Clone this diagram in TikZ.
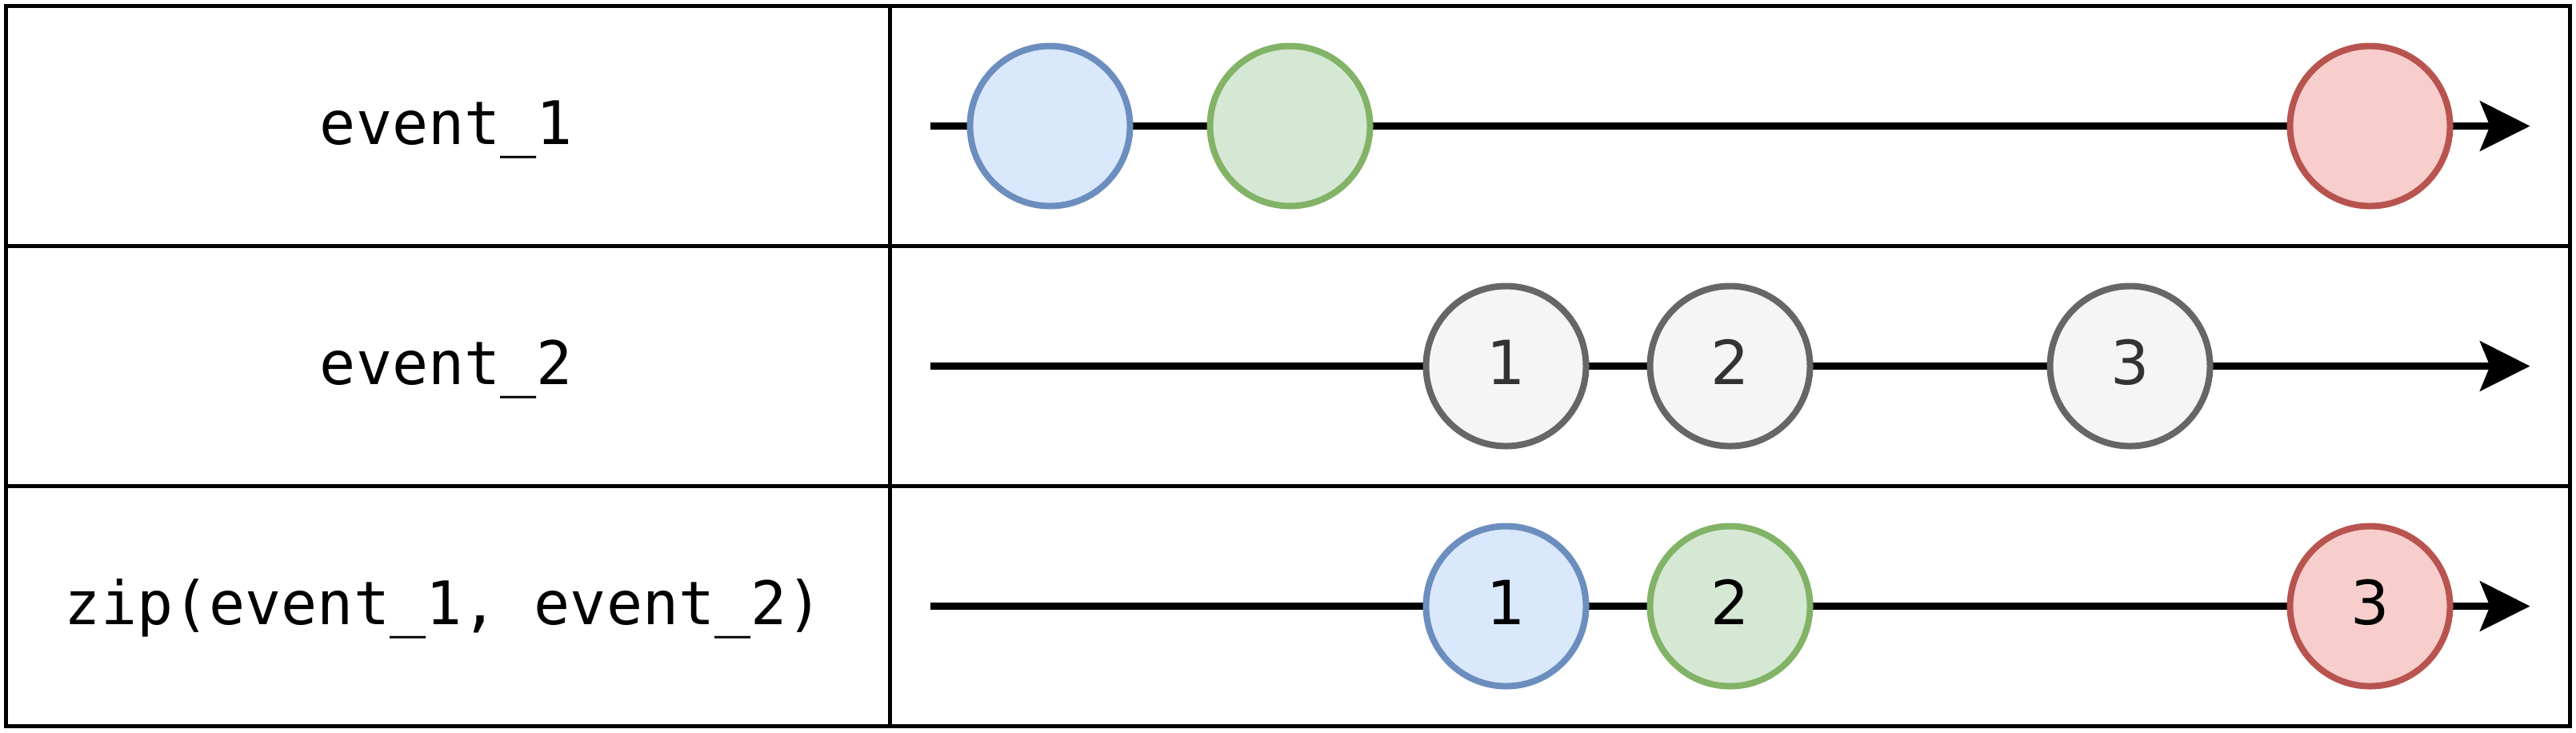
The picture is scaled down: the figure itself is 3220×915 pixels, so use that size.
\documentclass[tikz,border=0pt]{standalone}
\usepackage{fontspec}
\setmainfont{DejaVu Sans}
\newfontfamily\monofont{DejaVu Sans Mono}
\usetikzlibrary{arrows.meta}
\definecolor{bluefill}{HTML}{DAE8FC}
\definecolor{bluedraw}{HTML}{6C8EBF}
\definecolor{greenfill}{HTML}{D5E8D4}
\definecolor{greendraw}{HTML}{82B366}
\definecolor{redfill}{HTML}{F8CECC}
\definecolor{reddraw}{HTML}{B85450}
\definecolor{grayfill}{HTML}{F5F5F5}
\definecolor{graydraw}{HTML}{666666}
\definecolor{graytext}{HTML}{333333}
\begin{document}
\begin{tikzpicture}[x=0.25pt,y=-0.25pt,
  frame/.style={line width=1.25pt,draw=black},
  timeline/.style={line width=2.25pt,draw=black,
    -{Stealth[length=15.6pt,width=15.5pt,inset=3.1pt]}},
  ev/.style={circle,minimum size=50pt,inner sep=0pt,line width=2pt,
    font=\fontsize{19pt}{19pt}\selectfont,text height=11.5pt,text depth=0pt},
  evblue/.style={ev,draw=bluedraw,fill=bluefill},
  evgreen/.style={ev,draw=greendraw,fill=greenfill},
  evred/.style={ev,draw=reddraw,fill=redfill},
  evgray/.style={ev,draw=graydraw,fill=grayfill,text=graytext},
  rowlabel/.style={inner sep=0pt,font=\monofont\fontsize{18.75pt}{18.75pt}\selectfont,
    text height=11.5pt,text depth=0pt}]
\useasboundingbox (0,0) rectangle (3220,915);
\fill[white] (0,0) rectangle (3220,915);
% table frame
\draw[frame] (7.5,7.5) rectangle (3212.5,907.5);
\draw[frame] (7.5,307.5) -- (3212.5,307.5);
\draw[frame] (7.5,607.5) -- (3212.5,607.5);
\draw[frame] (1112,7.5) -- (1112,907.5);
% row labels
\node[rowlabel] (l1) at (558,157.5) {event\_1};
\node[rowlabel] (l2) at (558,457.5) {event\_2};
\node[rowlabel] (l3) at (555,757.5) {zip(event\_1, event\_2)};
% timelines
\coordinate (s1) at (1162.5,157.5);
\coordinate (e1) at (3162.5,157.5);
\coordinate (s2) at (1162.5,457.5);
\coordinate (e2) at (3162.5,457.5);
\coordinate (s3) at (1162.5,757.5);
\coordinate (e3) at (3162.5,757.5);
\draw[timeline] (s1) -- (e1);
\draw[timeline] (s2) -- (e2);
\draw[timeline] (s3) -- (e3);
% row 1 events
\node[evblue]  (a1) at (1312.5,157.5) {};
\node[evgreen] (a2) at (1612.5,157.5) {};
\node[evred]   (a3) at (2962.5,157.5) {};
% row 2 events
\node[evgray] (b1) at (1882.5,457.5) {1};
\node[evgray] (b2) at (2162.5,457.5) {2};
\node[evgray] (b3) at (2662.5,457.5) {3};
% row 3 events
\node[evblue]  (c1) at (1882.5,757.5) {1};
\node[evgreen] (c2) at (2162.5,757.5) {2};
\node[evred]   (c3) at (2962.5,757.5) {3};
\end{tikzpicture}
\end{document}
